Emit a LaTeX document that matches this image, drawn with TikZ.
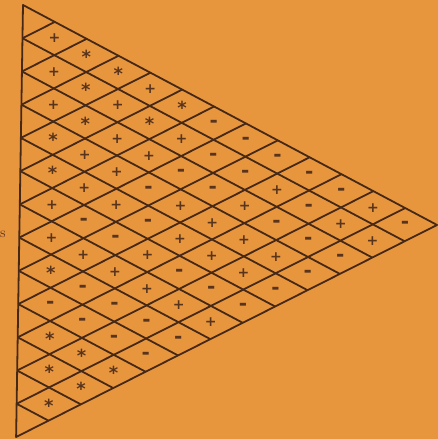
\documentclass[tikz,border=0pt]{standalone}
\usepackage{fontspec}
\usepackage{tikz}
\usepackage{xcolor}
\newfontfamily\markfont{DejaVu Sans}
\definecolor{paper}{RGB}{232,150,62}
\definecolor{ink}{RGB}{70,40,22}
\definecolor{pencil}{RGB}{88,52,28}
%% cell marks: plus, dash, asterisk (centred on the node)
\newcommand{\cellmarkp}{+}
\newcommand{\cellmarkm}{\raisebox{-0.3em}[0.1em][0.1em]{\fontsize{20}{20}\selectfont -}}
\newcommand{\cellmarka}{\raisebox{-0.58em}[0.2em][0.2em]{\fontsize{18}{18}\selectfont *}}
\begin{document}
\begin{tikzpicture}[x=1pt, y=1pt,
    grid/.style={draw=ink, line width=1.8pt, line join=round},
    sym/.style={text=pencil, inner sep=0pt,
                font=\markfont\bfseries\fontsize{14}{14}\selectfont}]

  %% ── Page and background ────────────────────────────────────
  \fill[paper] (0,0) rectangle (438,-439);
  \useasboundingbox (0,0) rectangle (438,-439);

  %% ── Label at the left margin ───────────────────────────────
  \node[text=pencil, font=\Large, anchor=west, inner sep=0pt] (lbl) at (0,-234) {s};

  %% ═══════════════════════════════════════════════════════════
  %% TRIANGLE GRID — lattice units: x along top edge, y along apex->bottom
  %% ═══════════════════════════════════════════════════════════
  \begin{scope}[shift={(23,-5)}, x={(31.85pt,-16.92pt)}, y={(-32.38pt,-16.31pt)}]
    \coordinate (top)  at (0,0);
    \coordinate (apex) at (13,0);
    \coordinate (bot)  at (13,13);
    \draw[grid] (top) -- (apex) -- (bot) -- cycle;

    %% lines parallel to the lower edge
    \foreach \j in {1,...,12}
      \draw[grid] (\j,0) -- (\j,\j);
    %% lines parallel to the upper edge
    \foreach \i in {1,...,12}
      \draw[grid] (\i,\i) -- (13,\i);

    %% ── Cell marks, column by column (p = +, m = -, a = *) ──
    \foreach \c/\marks in {1/{p,p,p,a,a,p,p,a,m,a,a,a},
                           2/{a,a,a,p,p,m,p,m,m,a,a},
                           3/{a,p,p,p,p,m,p,m,m,a},
                           4/{p,a,p,m,m,p,p,m,m},
                           5/{a,p,m,p,p,m,p,m},
                           6/{m,m,m,p,p,m,p},
                           7/{m,m,p,p,p,m},
                           8/{m,p,m,p,m},
                           9/{m,m,m,m},
                           10/{m,p,m},
                           11/{p,p},
                           12/{m}}
      \foreach \s [count=\i from 0] in \marks
        \node[sym] (m\c-\i) at ({\i+\c+0.5},{\i+0.5}) {\csname cellmark\s\endcsname};
  \end{scope}

\end{tikzpicture}
\end{document}
